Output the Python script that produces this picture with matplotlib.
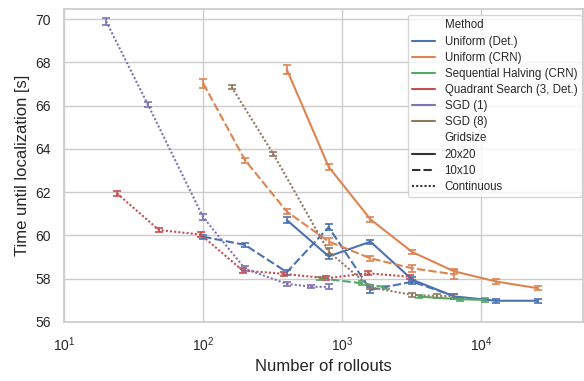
import matplotlib
matplotlib.use("Agg")
import matplotlib.pyplot as plt
from matplotlib.lines import Line2D
import seaborn as sns

sns.set_theme(style="whitegrid")
plt.rcParams['font.family'] = ['Liberation Sans', 'DejaVu Sans']

colors = sns.color_palette("deep")

# Uniform (Det.)
uni_det_20_x = [400, 800, 1600, 3200, 6400, 12800, 25600]
uni_det_20_y = [60.71, 59.03, 59.71, 57.95, 57.18, 56.98, 56.98]
uni_det_20_e = [0.12, 0.12, 0.1, 0.12, 0.1, 0.1, 0.1]
uni_det_10_x = [100, 200, 400, 800, 1600, 3200, 6400]
uni_det_10_y = [59.94, 59.56, 58.3, 60.38, 57.48, 57.86, 57.2]
uni_det_10_e = [0.1, 0.08, 0.12, 0.15, 0.12, 0.1, 0.1]

# Uniform (CRN)
uni_crn_20_x = [400, 800, 1600, 3200, 6400, 12800, 25600]
uni_crn_20_y = [67.67, 63.17, 60.74, 59.23, 58.34, 57.87, 57.56]
uni_crn_20_e = [0.2, 0.15, 0.1, 0.1, 0.12, 0.1, 0.1]
uni_crn_10_x = [100, 200, 400, 800, 1600, 3200, 6400]
uni_crn_10_y = [67.03, 63.48, 61.1, 59.72, 58.94, 58.48, 58.2]
uni_crn_10_e = [0.2, 0.12, 0.12, 0.15, 0.1, 0.15, 0.22]

# Sequential Halving (CRN)
seq_20_x = [3550, 7100, 10650]
seq_20_y = [57.17, 57.05, 57.02]
seq_20_e = [0.08, 0.08, 0.08]
seq_10_x = [690, 1380, 2070]
seq_10_y = [58.02, 57.79, 57.6]
seq_10_e = [0.08, 0.08, 0.08]

# Quadrant Search (3, Det.)
quad_x = [24, 48, 96, 192, 384, 768, 1536, 3072]
quad_y = [61.94, 60.25, 60.04, 58.38, 58.22, 58.02, 58.25, 58.09]
quad_e = [0.1, 0.1, 0.1, 0.1, 0.1, 0.1, 0.1, 0.1]

# SGD (1) / SGD (8)
sgd1_x = [20, 40, 100, 200, 400, 600, 800]
sgd1_y = [69.9, 66.05, 60.84, 58.46, 57.76, 57.63, 57.62]
sgd1_e = [0.15, 0.1, 0.15, 0.12, 0.1, 0.08, 0.12]
sgd8_x = [160, 320, 800, 1600, 3200, 4800, 6400]
sgd8_y = [66.87, 63.76, 59.25, 57.6, 57.25, 57.2, 57.2]
sgd8_e = [0.08, 0.08, 0.15, 0.1, 0.08, 0.08, 0.08]

methods = ["Uniform (Det.)", "Uniform (CRN)", "Sequential Halving (CRN)",
           "Quadrant Search (3, Det.)", "SGD (1)", "SGD (8)"]
gridsizes = ["20x20", "10x10", "Continuous"]
dash_styles = {"20x20": (None, None), "10x10": (4, 1.5), "Continuous": (1, 1)}

series = [
    (0, "20x20", uni_det_20_x, uni_det_20_y, uni_det_20_e),
    (0, "10x10", uni_det_10_x, uni_det_10_y, uni_det_10_e),
    (1, "20x20", uni_crn_20_x, uni_crn_20_y, uni_crn_20_e),
    (1, "10x10", uni_crn_10_x, uni_crn_10_y, uni_crn_10_e),
    (2, "20x20", seq_20_x, seq_20_y, seq_20_e),
    (2, "10x10", seq_10_x, seq_10_y, seq_10_e),
    (3, "Continuous", quad_x, quad_y, quad_e),
    (4, "Continuous", sgd1_x, sgd1_y, sgd1_e),
    (5, "Continuous", sgd8_x, sgd8_y, sgd8_e),
]

fig = plt.figure(figsize=(5.84, 3.81), dpi=100)
ax = fig.add_axes([0.11, 0.155, 0.888, 0.821])

for ci, gs, xs, ys, es in series:
    line = ax.errorbar(xs, ys, yerr=es, color=colors[ci], lw=1.5,
                       elinewidth=1.2, capsize=2.8, capthick=1.2)
    d = dash_styles[gs]
    if d[0] is not None:
        line[0].set_dashes(d)

ax.set_xscale("log")
ax.set_xlim(10, 54000)
ax.set_ylim(56, 70.46)
ax.set_yticks(range(56, 71, 2))
ax.minorticks_off()
ax.tick_params(labelsize=10, colors="#262626")
ax.set_xlabel("Number of rollouts", fontsize=12)
ax.set_ylabel("Time until localization [s]", fontsize=12)

blank = Line2D([], [], color="none")
handles = [blank] + [Line2D([], [], color=colors[i], lw=1.5) for i in range(len(methods))]
labels = ["Method"] + methods
handles.append(blank)
labels.append("Gridsize")
for gs in gridsizes:
    h = Line2D([], [], color="#333333", lw=1.5)
    if dash_styles[gs][0] is not None:
        h.set_dashes(dash_styles[gs])
    handles.append(h)
    labels.append(gs)

ax.legend(handles, labels, loc="upper right", bbox_to_anchor=(0.998, 0.982),
          borderaxespad=0, fontsize=8.3, labelspacing=0.36, framealpha=0.8)

fig.savefig("out.png", dpi=100)
